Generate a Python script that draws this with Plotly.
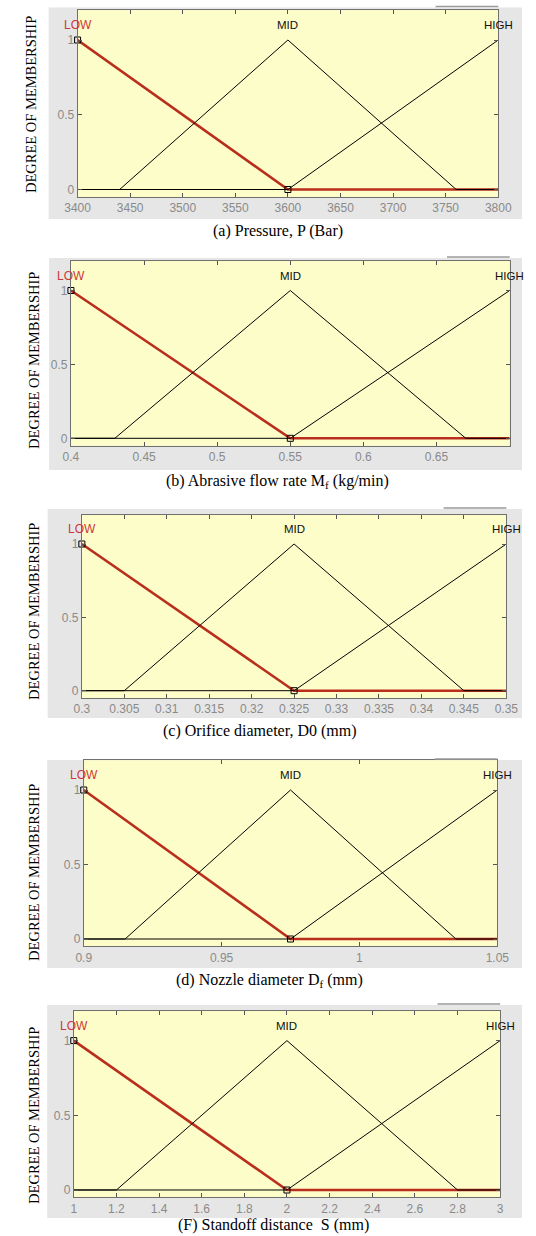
import plotly.graph_objects as go

W, H = 536, 1236

# ---------------- data ----------------
x_min = [3400, 0.40, 0.300, 0.900, 1.0]
x_max = [3800, 0.70, 0.350, 1.050, 3.0]
low_mf = [[3400, 3600], [0.40, 0.55], [0.300, 0.325], [0.900, 0.975], [1.0, 2.0]]      # peak (1) -> foot (0)
mid_mf = [[3440, 3600, 3760], [0.43, 0.55, 0.67], [0.305, 0.325, 0.345],
          [0.915, 0.975, 1.035], [1.2, 2.0, 2.8]]                                     # foot, peak, foot
high_mf = [[3600, 3800], [0.55, 0.70], [0.325, 0.350], [0.975, 1.050], [2.0, 3.0]]   # foot (0) -> peak (1)
tick_vals = [
    [3400, 3450, 3500, 3550, 3600, 3650, 3700, 3750, 3800],
    [0.40, 0.45, 0.50, 0.55, 0.60, 0.65],
    [0.300, 0.305, 0.310, 0.315, 0.320, 0.325, 0.330, 0.335, 0.340, 0.345, 0.350],
    [0.90, 0.95, 1.00, 1.05],
    [1.0, 1.2, 1.4, 1.6, 1.8, 2.0, 2.2, 2.4, 2.6, 2.8, 3.0],
]
tick_text = [
    ["3400", "3450", "3500", "3550", "3600", "3650", "3700", "3750", "3800"],
    ["0.4", "0.45", "0.5", "0.55", "0.6", "0.65"],
    ["0.3", "0.305", "0.31", "0.315", "0.32", "0.325", "0.33", "0.335", "0.34", "0.345", "0.35"],
    ["0.9", "0.95", "1", "1.05"],
    ["1", "1.2", "1.4", "1.6", "1.8", "2", "2.2", "2.4", "2.6", "2.8", "3"],
]
y_vals = [0, 0.5, 1]
y_text = ["0", "0.5", "1"]
mf_names = ["LOW", "MID", "HIGH"]
captions = [
    "(a) Pressure, P (Bar)",
    "(b) Abrasive flow rate M<sub>f</sub> (kg/min)",
    "(c) Orifice diameter, D0 (mm)",
    "(d) Nozzle diameter D<sub>f</sub> (mm)",
    "(F) Standoff distance  S (mm)",
]
y_title = "DEGREE OF MEMBERSHIP"

# ---------------- layout geometry (pixels) ----------------
# left, right, y(1) px, y(0) px
geo = [
    (68, 511, 40, 189.5),
    (61, 523, 290.5, 438.3),
    (72.5, 519.5, 544, 690.7),
    (74.5, 510, 790, 939),
    (64, 513, 1040.6, 1190),
]
grey = [(37.5, 7.5, 219), (38, 258, 470), (36.5, 509, 718), (36, 760, 968), (36, 1005, 1218)]
cap_pos = [(279, 231), (279, 481), (260, 731), (270, 980), (274, 1225)]
ytit_pos = [(19, 105), (22, 360), (22, 611), (22, 872), (22, 1115)]

Y0, Y1 = -0.05, 1.2
YELLOW = "#FDFDC9"
GREY = "#E6E6E6"
RED = "#B92E1C"

fig = go.Figure()
shapes, annots = [], []

for i in range(5):
    n = "" if i == 0 else str(i + 1)
    xa, ya = "x" + n, "y" + n
    L, R, p1, p0 = geo[i]
    d = p0 - p1
    top = p1 - (Y1 - 1) * d
    bot = p0 - Y0 * d
    lay_x = dict(domain=[L / W, R / W], range=[x_min[i], x_max[i]], anchor=ya,
                 tickvals=tick_vals[i], ticktext=tick_text[i], ticks="inside", ticklen=4,
                 tickcolor="#555", mirror="ticks", showline=True, linecolor="#707070", linewidth=1,
                 showgrid=False, zeroline=False, fixedrange=True,
                 tickfont=dict(family="Liberation Sans, Arial", size=12, color="#8A8A8A"))
    lay_y = dict(domain=[1 - bot / H, 1 - top / H], range=[Y0, Y1], anchor=xa,
                 tickvals=y_vals, ticktext=y_text, ticks="inside", ticklen=4,
                 tickcolor="#555", mirror="ticks", showline=True, linecolor="#707070", linewidth=1,
                 showgrid=False, zeroline=False, fixedrange=True,
                 tickfont=dict(family="Liberation Sans, Arial", size=12, color="#8A8A8A"))
    fig.layout["xaxis" + n] = lay_x
    fig.layout["yaxis" + n] = lay_y

    # grey figure panel and plot background
    gx, gt, gb = grey[i]
    shapes.append(dict(type="rect", xref="paper", yref="paper", x0=gx / W, x1=1.0,
                       y0=1 - gb / H, y1=1 - gt / H, fillcolor=GREY, line=dict(width=0), layer="below"))
    shapes.append(dict(type="rect", xref="paper", yref="paper", x0=L / W, x1=R / W,
                       y0=1 - bot / H, y1=1 - top / H, fillcolor=YELLOW, line=dict(width=0), layer="below"))
    shapes.append(dict(type="line", xref="paper", yref="paper", x0=(R - 66) / W, x1=R / W,
                       y0=1 - (gt - 1) / H, y1=1 - (gt - 1) / H, line=dict(color="#9A9A9A", width=1.5)))

    # membership functions
    lo, mi, hi = low_mf[i], mid_mf[i], high_mf[i]
    fig.add_trace(go.Scatter(x=[lo[0], lo[1], x_max[i]], y=[1, 0, 0], mode="lines",
                             line=dict(color=RED, width=2.6), xaxis=xa, yaxis=ya,
                             showlegend=False, hoverinfo="skip"))
    fig.add_trace(go.Scatter(x=[x_min[i], mi[0], mi[1], mi[2], x_max[i]], y=[0, 0, 1, 0, 0], mode="lines",
                             line=dict(color="black", width=1), xaxis=xa, yaxis=ya,
                             showlegend=False, hoverinfo="skip"))
    fig.add_trace(go.Scatter(x=[x_min[i], hi[0], hi[1]], y=[0, 0, 1], mode="lines",
                             line=dict(color="black", width=1), xaxis=xa, yaxis=ya,
                             showlegend=False, hoverinfo="skip"))
    fig.add_trace(go.Scatter(x=[lo[0], lo[1]], y=[1, 0], mode="markers", cliponaxis=False,
                             marker=dict(symbol="square-open", size=6, color="black", line=dict(width=1)),
                             xaxis=xa, yaxis=ya, showlegend=False, hoverinfo="skip"))

    # MF labels
    for name, xp, col, fs in zip(mf_names, [lo[0], mi[1], hi[1]],
                                 ["#CC3838", "#111111", "#111111"], [12, 11.5, 11.5]):
        annots.append(dict(x=xp, y=1.1, xref=xa, yref=ya, text=name, showarrow=False,
                           font=dict(family="Liberation Sans, Arial", size=fs, color=col),
                           xanchor="center", yanchor="middle"))

    # caption and y title
    cx, cy = cap_pos[i]
    annots.append(dict(x=cx / W, y=1 - cy / H, xref="paper", yref="paper", text=captions[i],
                       showarrow=False, xanchor="center", yanchor="middle", borderpad=0,
                       font=dict(family="Liberation Serif, Times New Roman", size=16, color="black")))
    tx, ty = ytit_pos[i]
    annots.append(dict(x=tx / W, y=1 - ty / H, xref="paper", yref="paper", text=y_title,
                       showarrow=False, textangle=-90, xanchor="center", yanchor="middle",
                       font=dict(family="Liberation Serif, Times New Roman", size=14.5, color="black")))

fig.update_layout(width=W, height=H, autosize=False, margin=dict(l=0, r=0, t=0, b=0),
                  paper_bgcolor="white", plot_bgcolor="rgba(0,0,0,0)", hovermode=False,
                  shapes=shapes, annotations=annots, showlegend=False)

fig.write_html("out.html", config={"displayModeBar": False, "staticPlot": True},
               post_script="document.body.style.margin='0';document.body.style.overflow='hidden';")
